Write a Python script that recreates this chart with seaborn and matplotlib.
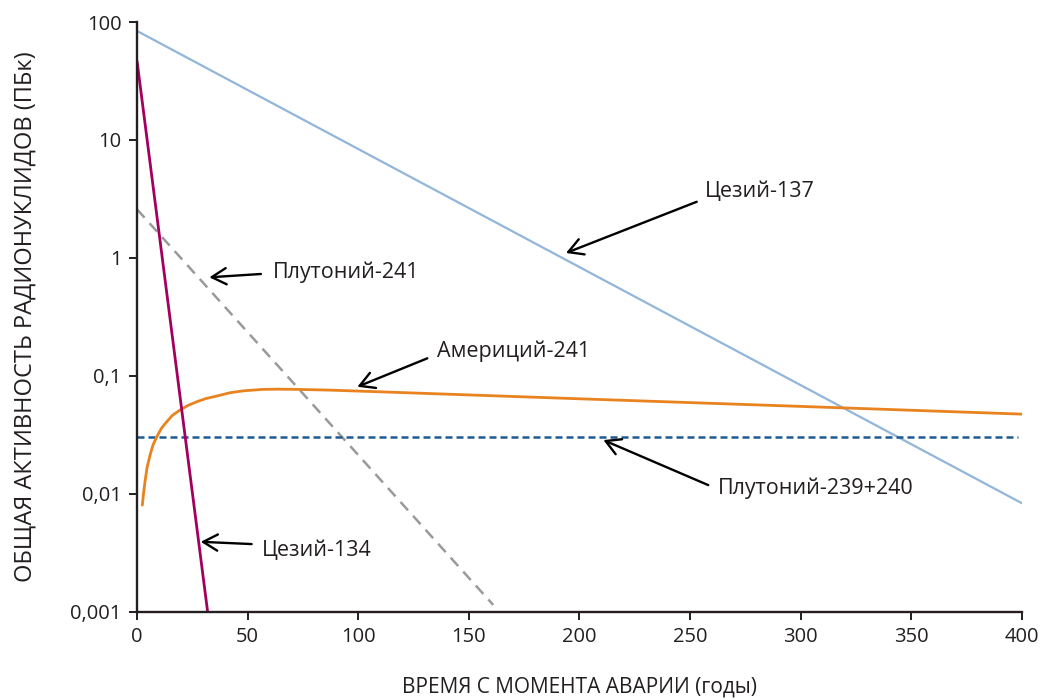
import matplotlib
matplotlib.use("Agg")
import matplotlib.pyplot as plt
import seaborn as sns
import pandas as pd

# Time since the accident (years) and total activity (PBq) for each radionuclide
cs137_years = [0, 400]
cs137_pbq = [84, 0.0083]

cs134_years = [0, 31.9]
cs134_pbq = [46.7, 0.001]

pu241_years = [0, 161]
pu241_pbq = [2.58, 0.00114]

pu239_years = [0, 398]
pu239_pbq = [0.0303, 0.0303]

am241_years = [2.4, 3.0, 3.6, 4.5, 5.9, 7.2, 8.9, 11.0, 13.4, 16.0, 19.4, 23.0, 27.0,
               31.0, 36.0, 42.0, 48.0, 57.0, 64.0, 72.0, 87.0, 110.0, 200.0, 300.0, 400.0]
am241_pbq = [0.0080, 0.0103, 0.0126, 0.0165, 0.0213, 0.0258, 0.0303, 0.0358, 0.0407,
             0.0462, 0.0512, 0.0560, 0.0602, 0.0640, 0.0673, 0.0718, 0.0745, 0.0767,
             0.0770, 0.0767, 0.0756, 0.0731, 0.0638, 0.0550, 0.0473]

x_ticks = [0, 50, 100, 150, 200, 250, 300, 350, 400]
y_ticks = [0.001, 0.01, 0.1, 1, 10, 100]
y_tick_labels = ["0,001", "0,01", "0,1", "1", "10", "100"]

labels = ["Цезий-137", "Плутоний-241", "Америций-241", "Плутоний-239+240", "Цезий-134"]

sns.set_theme(style="white")
plt.rcParams["font.family"] = ["Open Sans", "DejaVu Sans"]

TEXT = "#231f20"
fig = plt.figure(figsize=(10.46, 6.99), dpi=100)
ax = fig.add_axes([0.131, 0.125, 0.846, 0.8435])

def draw(years, vals, **kw):
    df = pd.DataFrame({"t": years, "a": vals})
    sns.lineplot(data=df, x="t", y="a", ax=ax, estimator=None, sort=False, **kw)

draw(cs137_years, cs137_pbq, color="#92b5da", linewidth=1.6)
draw(pu241_years, pu241_pbq, color="#9a9a9a", linewidth=1.8, linestyle=(0, (4.5, 3)))
draw(pu239_years, pu239_pbq, color="#1d5a92", linewidth=1.8, linestyle=(0, (2.8, 1.6)))
draw(am241_years, am241_pbq, color="#e8831f", linewidth=2.0)
draw(cs134_years, cs134_pbq, color="#a3005e", linewidth=2.0)

ax.set_yscale("log")
ax.set_xlim(0, 400)
ax.set_ylim(0.001, 100)
ax.set_xticks(x_ticks)
ax.set_xticklabels([str(v) for v in x_ticks])
ax.set_yticks(y_ticks)
ax.set_yticklabels(y_tick_labels)
ax.minorticks_off()

for side in ("top", "right"):
    ax.spines[side].set_visible(False)
for side in ("left", "bottom"):
    ax.spines[side].set_linewidth(1.7)
    ax.spines[side].set_color(TEXT)
ax.tick_params(axis="both", which="major", direction="out", length=6, width=1.4,
               color=TEXT, labelsize=14.5, labelcolor=TEXT, pad=5, left=True, bottom=True)

ax.set_xlabel("ВРЕМЯ С МОМЕНТА АВАРИИ (годы)", fontsize=15, color=TEXT, labelpad=21)
ax.set_ylabel("ОБЩАЯ АКТИВНОСТЬ РАДИОНУКЛИДОВ (ПБк)", fontsize=17, color=TEXT, labelpad=24)

# Label text position, arrow tail and arrow head for each series
label_text_pos = [(256.7, 3.64), (61.5, 0.762), (135.5, 0.163), (262.7, 0.01109), (56.4, 0.00328)]
arrow_tails = [(253.0, 2.99), (56.0, 0.730), (131.2, 0.1406), (258.2, 0.01183), (51.8, 0.00374)]
arrow_heads = [(193.9, 1.10), (32.7, 0.684), (99.6, 0.0807), (210.8, 0.0285), (28.8, 0.00391)]

for name, tpos, tail, head in zip(labels, label_text_pos, arrow_tails, arrow_heads):
    ax.annotate("", xy=head, xytext=tail,
                arrowprops=dict(arrowstyle="->,head_length=0.8,head_width=0.45",
                                color="black", lw=1.7, shrinkA=0, shrinkB=0,
                                mutation_scale=13))
    ax.text(tpos[0], tpos[1], name, ha="left", va="center", fontsize=15.5, color=TEXT)

fig.savefig("out.png", dpi=100)
